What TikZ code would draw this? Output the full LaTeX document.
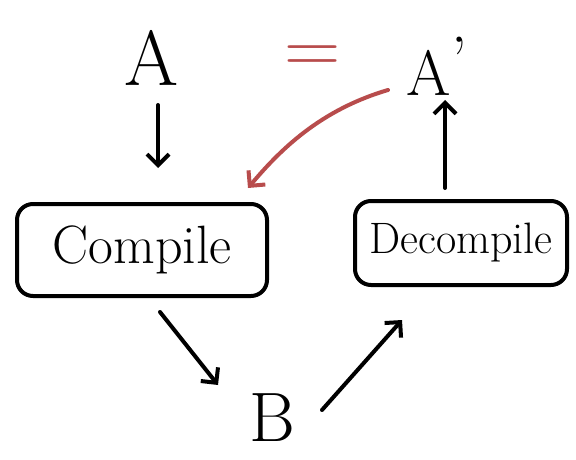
\documentclass[tikz,border=0pt]{standalone}
\usepackage{fontspec}
\setmainfont{Latin Modern Roman}
\usetikzlibrary{arrows.meta}
\begin{document}
\begin{tikzpicture}[x=1pt,y=-1pt,
  ink/.style={line width=4pt,line cap=round,line join=round},
  arr/.style={ink,-{Straight Barb[length=11pt,width=22pt]}},
  boxstyle/.style={ink,draw,rounded corners=16pt,inner sep=0pt},
  big/.style={font=\fontsize{78}{78}\selectfont},
  mid/.style={font=\fontsize{64}{64}\selectfont}]
\useasboundingbox (0,0) rectangle (576,460);
\fill[white] (0,0) rectangle (576,460);
\node[big] (A) at (152,58) {A};
\node[big,text=red!60!black!70] (eq) at (313,60) {=};
\node[mid] (Ap) at (437,66) {A\kern1pt\raisebox{14pt}{\textquoteright}};
\node[boxstyle,minimum width=250pt,minimum height=92pt,font=\fontsize{54}{54}\selectfont] (C) at (142,250) {Compile};
\node[boxstyle,minimum width=212pt,minimum height=84pt,font=\fontsize{44}{44}\selectfont] (D) at (461,243) {Decompile};
\node[font=\fontsize{70}{70}\selectfont] (B) at (272,418) {B};
\draw[arr] (158,105) -- (158,168);
\draw[arr] (445,188) -- (445,100);
\draw[arr,draw=red!60!black!70] (388,90) .. controls (320,110) and (280,150) .. (248,188);
\draw[arr] (160,312) -- (218,385);
\draw[arr] (322,410) -- (402,320);
\end{tikzpicture}
\end{document}
